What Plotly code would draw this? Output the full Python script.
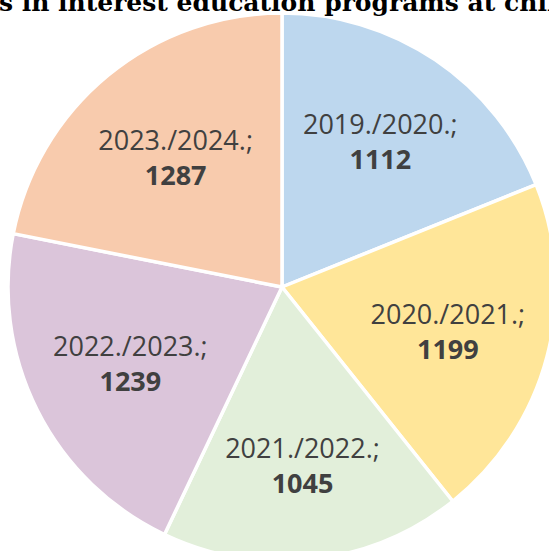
import plotly.graph_objects as go

# School years and number of participants per year
years = ["2019./2020.", "2020./2021.", "2021./2022.", "2022./2023.", "2023./2024."]
participants = [1112, 1199, 1045, 1239, 1287]
colors = ["#BDD7EE", "#FFE699", "#E2EFDA", "#DBC5DA", "#F8CBAD"]

title_text = "Number of participants in interest education programs at children's centre"

# Canvas is a bit larger than the visible page; the pie runs off the right/bottom edges
W, H = 565, 575
cx, cy, R = 282, 287, 274

fig = go.Figure(
    go.Pie(
        labels=years,
        values=participants,
        sort=False,
        direction="clockwise",
        rotation=0,
        marker=dict(colors=colors, line=dict(color="white", width=3.5)),
        texttemplate="%{label};<br><b>%{value}</b>",
        textposition="inside",
        insidetextorientation="horizontal",
        textfont=dict(family="Open Sans", size=27, color="#404040"),
        hoverinfo="label+value",
        domain=dict(
            x=[(cx - R) / W, (cx + R) / W],
            y=[(H - cy - R) / H, (H - cy + R) / H],
        ),
    )
)

fig.add_annotation(
    text="<b>" + title_text + "</b>",
    xref="paper", yref="paper",
    x=-318 / W, y=(H - 19) / H,
    xanchor="left", yanchor="bottom",
    showarrow=False,
    font=dict(family="DejaVu Serif", size=25, color="#000000"),
)

fig.update_layout(
    width=W, height=H,
    margin=dict(l=0, r=0, t=0, b=0),
    showlegend=False,
    paper_bgcolor="white",
    plot_bgcolor="white",
)

fig.write_html(
    "out.html",
    post_script="document.body.style.margin='0';document.body.style.overflow='hidden';"
                "document.documentElement.style.overflow='hidden';",
)
